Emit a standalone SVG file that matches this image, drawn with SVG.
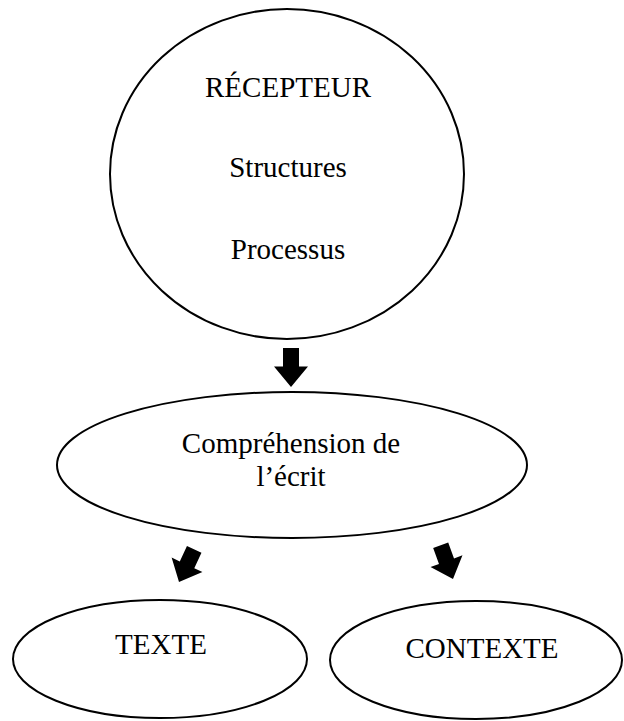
<svg xmlns="http://www.w3.org/2000/svg" xmlns:xlink="http://www.w3.org/1999/xlink" width="624" height="721" viewBox="0 0 624 721">
<style>
.n{fill:#fff;stroke:#000;stroke-width:2}
.t{font-family:"Liberation Serif","Times New Roman",serif;font-size:29px;fill:#000;text-anchor:middle}
.a{fill:#000}
</style>
<defs>
<path id="arr" d="M-8,-36 L8,-36 L8,-19 L17,-19 L0,0 L-17,-19 L-8,-19 Z"/>
</defs>
<rect width="624" height="721" fill="#fff"/>
<g id="recepteur">
<ellipse class="n" cx="287" cy="174" rx="177" ry="165"/>
<text class="t" x="288" y="97">RÉCEPTEUR</text>
<text class="t" x="288" y="177">Structures</text>
<text class="t" x="288" y="259">Processus</text>
</g>
<g id="comprehension">
<ellipse class="n" cx="292" cy="465" rx="235" ry="73"/>
<text class="t" x="291" y="453">Compréhension de</text>
<text class="t" x="291" y="486">l’écrit</text>
</g>
<g id="texte">
<ellipse class="n" cx="160" cy="659" rx="147" ry="59"/>
<text class="t" x="161" y="654">TEXTE</text>
</g>
<g id="contexte">
<ellipse class="n" cx="476" cy="660" rx="146" ry="59"/>
<text class="t" x="482" y="658">CONTEXTE</text>
</g>
<g id="connectors">
<use class="a" xlink:href="#arr" transform="translate(291,387) scale(1,1.083)"/>
<use class="a" xlink:href="#arr" transform="translate(179,582) rotate(25)"/>
<use class="a" xlink:href="#arr" transform="translate(453,579) rotate(-20)"/>
</g>
</svg>
